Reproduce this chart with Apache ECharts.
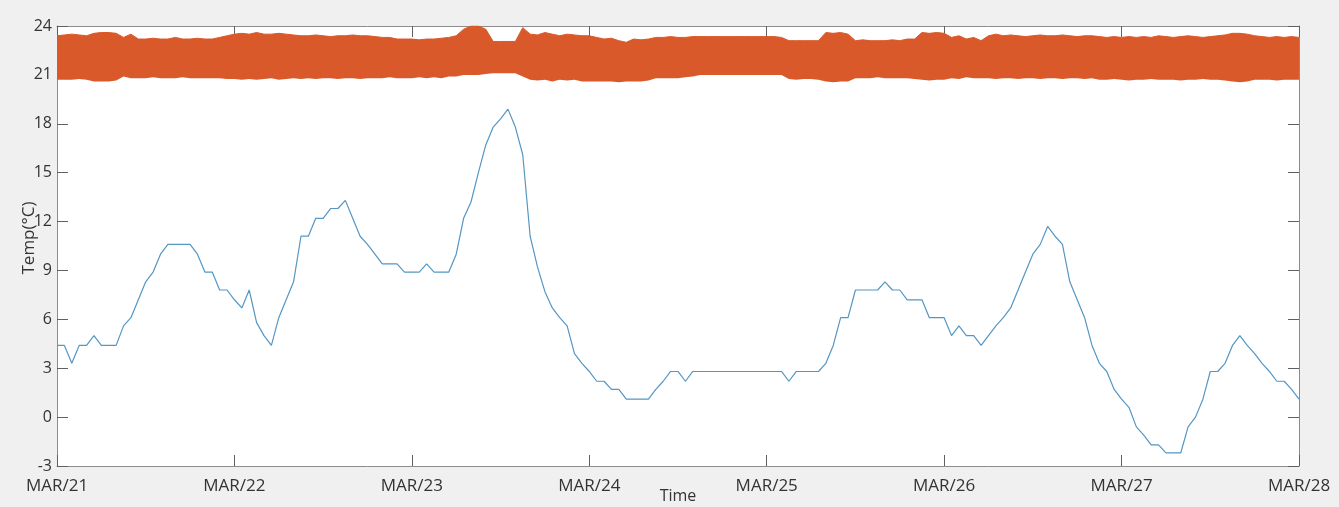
<!DOCTYPE html>
<html>
<head>
<meta charset="utf-8">
<script src="https://cdn.jsdelivr.net/npm/echarts@6/dist/echarts.min.js"></script>
<style>html,body{margin:0;padding:0;background:#f0f0f0;}</style>
</head>
<body>
<div id="main" style="width:1339px;height:507px;"></div>
<script>
// hourly samples, hour 0 = MAR/21 00:00
var dayLabels = ['MAR/21', 'MAR/22', 'MAR/23', 'MAR/24', 'MAR/25', 'MAR/26', 'MAR/27', 'MAR/28'];

// outdoor temperature (blue)
var outdoorTemp = [
    4.4, 4.4, 3.3, 4.4, 4.4, 5.0, 4.4, 4.4, 4.4, 5.6, 6.1, 7.2, 8.3, 8.9, 10.0, 10.6, 10.6, 10.6, 10.6, 10.0, 8.9, 8.9, 7.8, 7.8,
    7.2, 6.7, 7.8, 5.8, 5.0, 4.4, 6.1, 7.2, 8.3, 11.1, 11.1, 12.2, 12.2, 12.8, 12.8, 13.3, 12.2, 11.1, 10.6, 10.0, 9.4, 9.4, 9.4, 8.9,
    8.9, 8.9, 9.4, 8.9, 8.9, 8.9, 10.0, 12.2, 13.2, 15.0, 16.7, 17.8, 18.3, 18.9, 17.8, 16.1, 11.1, 9.2, 7.7, 6.7, 6.1, 5.6, 3.9, 3.3,
    2.8, 2.2, 2.2, 1.7, 1.7, 1.1, 1.1, 1.1, 1.1, 1.7, 2.2, 2.8, 2.8, 2.2, 2.8, 2.8, 2.8, 2.8, 2.8, 2.8, 2.8, 2.8, 2.8, 2.8,
    2.8, 2.8, 2.8, 2.2, 2.8, 2.8, 2.8, 2.8, 3.3, 4.4, 6.1, 6.1, 7.8, 7.8, 7.8, 7.8, 8.3, 7.8, 7.8, 7.2, 7.2, 7.2, 6.1, 6.1,
    6.1, 5.0, 5.6, 5.0, 5.0, 4.4, 5.0, 5.6, 6.1, 6.7, 7.8, 8.9, 10.0, 10.6, 11.7, 11.1, 10.6, 8.3, 7.2, 6.1, 4.4, 3.3, 2.8, 1.7,
    1.1, 0.6, -0.6, -1.1, -1.7, -1.7, -2.2, -2.2, -2.2, -0.6, 0.0, 1.1, 2.8, 2.8, 3.3, 4.4, 5.0, 4.4, 3.9, 3.3, 2.8, 2.2, 2.2, 1.7,
    1.1
];

// indoor temperature (orange), upper and lower edge of the cycling
var indoorHigh = [
    23.4, 23.45, 23.5, 23.45, 23.4, 23.55, 23.6, 23.6, 23.55, 23.3, 23.5, 23.2, 23.2, 23.25, 23.2, 23.2, 23.3, 23.2, 23.2, 23.25, 23.2, 23.2, 23.3, 23.4,
    23.5, 23.55, 23.5, 23.6, 23.5, 23.5, 23.55, 23.5, 23.45, 23.4, 23.4, 23.45, 23.4, 23.35, 23.4, 23.4, 23.45, 23.4, 23.4, 23.35, 23.3, 23.3, 23.2, 23.2,
    23.2, 23.15, 23.2, 23.2, 23.25, 23.3, 23.4, 23.8, 24.0, 24.0, 23.8, 23.05, 23.05, 23.05, 23.05, 23.9, 23.5, 23.45, 23.6, 23.5, 23.4, 23.5, 23.45, 23.4,
    23.4, 23.3, 23.2, 23.25, 23.1, 23.0, 23.2, 23.15, 23.2, 23.3, 23.3, 23.35, 23.3, 23.3, 23.35, 23.35, 23.35, 23.35, 23.35, 23.35, 23.35, 23.35, 23.35, 23.35,
    23.35, 23.35, 23.3, 23.1, 23.1, 23.1, 23.1, 23.1, 23.6, 23.55, 23.6, 23.5, 23.1, 23.15, 23.1, 23.1, 23.1, 23.15, 23.1, 23.2, 23.2, 23.6, 23.55, 23.6,
    23.55, 23.3, 23.4, 23.2, 23.3, 23.1, 23.4, 23.5, 23.4, 23.45, 23.4, 23.35, 23.4, 23.45, 23.4, 23.4, 23.45, 23.4, 23.35, 23.4, 23.4, 23.35, 23.3, 23.35,
    23.3, 23.35, 23.3, 23.35, 23.3, 23.4, 23.35, 23.3, 23.35, 23.4, 23.35, 23.3, 23.35, 23.4, 23.45, 23.55, 23.55, 23.5, 23.4, 23.35, 23.3, 23.35, 23.3, 23.35,
    23.3
];
var indoorLow = [
    20.7, 20.7, 20.7, 20.75, 20.7, 20.6, 20.6, 20.6, 20.65, 20.9, 20.8, 20.8, 20.8, 20.85, 20.8, 20.8, 20.8, 20.85, 20.8, 20.8, 20.8, 20.8, 20.8, 20.75,
    20.75, 20.7, 20.75, 20.7, 20.75, 20.8, 20.7, 20.75, 20.8, 20.75, 20.8, 20.75, 20.8, 20.8, 20.75, 20.8, 20.8, 20.75, 20.8, 20.8, 20.8, 20.85, 20.8, 20.8,
    20.8, 20.85, 20.8, 20.85, 20.8, 20.9, 20.9, 21.0, 21.0, 21.0, 21.05, 21.1, 21.1, 21.1, 21.1, 20.9, 20.7, 20.65, 20.7, 20.6, 20.7, 20.65, 20.7, 20.6,
    20.6, 20.6, 20.6, 20.6, 20.55, 20.6, 20.6, 20.6, 20.65, 20.8, 20.8, 20.8, 20.8, 20.85, 20.9, 21.0, 21.0, 21.0, 21.0, 21.0, 21.0, 21.0, 21.0, 21.0,
    21.0, 21.0, 21.0, 20.75, 20.7, 20.75, 20.75, 20.7, 20.6, 20.55, 20.6, 20.6, 20.8, 20.8, 20.8, 20.85, 20.8, 20.8, 20.8, 20.8, 20.75, 20.7, 20.65, 20.7,
    20.7, 20.8, 20.75, 20.85, 20.8, 20.8, 20.8, 20.75, 20.8, 20.8, 20.75, 20.8, 20.8, 20.75, 20.8, 20.8, 20.75, 20.8, 20.8, 20.75, 20.8, 20.7, 20.7, 20.75,
    20.7, 20.65, 20.7, 20.7, 20.75, 20.7, 20.7, 20.7, 20.65, 20.7, 20.7, 20.75, 20.7, 20.7, 20.65, 20.6, 20.55, 20.6, 20.7, 20.7, 20.7, 20.65, 20.7, 20.7,
    20.7
];

var hours = outdoorTemp.map(function (v, i) { return i; });

var axisColor = '#8c8c8c';
var tickColor = '#606060';
var textColor = '#333333';
var fontName = 'Open Sans';

function atDay(index) { return index % 24 === 0; }

function xAxisOpt(pos, labels) {
    return {
        type: 'category', position: pos, data: hours, boundaryGap: false,
        axisLine: { show: true, onZero: false, lineStyle: { color: axisColor, width: 1 } },
        axisTick: { show: true, inside: true, length: 11, interval: atDay, lineStyle: { color: tickColor } },
        axisLabel: {
            show: labels, margin: 12, fontSize: 17, color: textColor, fontFamily: fontName,
            interval: atDay,
            formatter: function (v, i) { return dayLabels[i / 24]; }
        },
        splitLine: { show: false }
    };
}
function yAxisOpt(pos, labels) {
    return {
        type: 'value', position: pos, min: -3, max: 24, interval: 3,
        axisLine: { show: true, onZero: false, lineStyle: { color: axisColor, width: 1 } },
        axisTick: { show: true, inside: true, length: 11, lineStyle: { color: tickColor } },
        axisLabel: { show: labels, margin: 5, fontSize: 16, color: textColor, fontFamily: fontName },
        splitLine: { show: false }
    };
}

var xBottom = xAxisOpt('bottom', true);
xBottom.name = 'Time';
xBottom.nameLocation = 'middle';
xBottom.nameGap = 22;
xBottom.nameMoveOverlap = false;
xBottom.nameTextStyle = { fontSize: 16, color: textColor, fontFamily: fontName };
var yLeft = yAxisOpt('left', true);
yLeft.name = 'Temp(°C)';
yLeft.nameLocation = 'middle';
yLeft.nameGap = 19;
yLeft.nameMoveOverlap = false;
yLeft.nameTextStyle = { fontSize: 17, color: textColor, fontFamily: fontName, padding: [0, 0, 0, 16] };

var chart = echarts.init(document.getElementById('main'));
chart.setOption({
    backgroundColor: '#f0f0f0',
    animation: false,
    grid: {
        left: 57, right: 40, top: 26, bottom: 41, outerBoundsMode: 'none', containLabel: false,
        show: true, backgroundColor: '#ffffff', borderWidth: 0
    },
    xAxis: [xBottom, xAxisOpt('top', false)],
    yAxis: [yLeft, yAxisOpt('right', false)],
    series: [
        {
            name: 'indoorLow', type: 'line', stack: 'indoor', symbol: 'none',
            data: indoorLow,
            lineStyle: { opacity: 0 }, z: 2
        },
        {
            name: 'indoor', type: 'line', stack: 'indoor', symbol: 'none',
            data: indoorHigh.map(function (v, i) { return +(v - indoorLow[i]).toFixed(2); }),
            lineStyle: { color: '#d9592a', width: 1 },
            areaStyle: { color: '#d9592a', opacity: 1 }, z: 2
        },
        {
            name: 'outdoor', type: 'line', symbol: 'none',
            data: outdoorTemp,
            lineStyle: { color: '#5496c4', width: 1.2 }, z: 3
        }
    ]
});
</script>
</body>
</html>
